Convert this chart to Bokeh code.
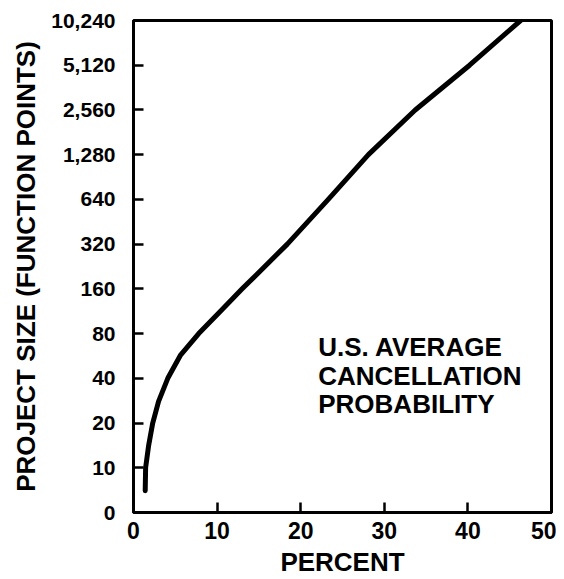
from bokeh.plotting import figure
from bokeh.models import FixedTicker, Label, Range1d
from bokeh.embed import file_html
from bokeh.resources import INLINE

# --- data ---
percent = [1.4, 1.45, 1.8, 2.3, 3.0, 4.1, 5.6, 7.8, 10.4, 13.0, 18.4, 23.3, 28.1, 33.7, 40.2, 46.3]
function_points = [7, 10, 14, 20, 28, 40, 57, 80, 113, 160, 320, 640, 1280, 2560, 5120, 10240]

y_ticks = [5, 10, 20, 40, 80, 160, 320, 640, 1280, 2560, 5120, 10240]
y_tick_labels = ["0", "10", "20", "40", "80", "160", "320", "640", "1,280", "2,560", "5,120", "10,240"]
x_ticks = [0, 10, 20, 30, 40, 50]
annotation_lines = ["U.S. AVERAGE", "CANCELLATION", "PROBABILITY"]

FONT = "Liberation Sans"

p = figure(width=556, height=579, y_axis_type="log",
           x_range=Range1d(0, 50), y_range=Range1d(5, 10240),
           output_backend="svg", toolbar_location=None,
           min_border_left=133, min_border_right=5,
           min_border_top=20, min_border_bottom=66)

p.background_fill_color = "white"
p.border_fill_color = "white"
p.grid.visible = False
p.outline_line_color = "black"
p.outline_line_width = 3

p.line(percent, function_points, line_color="black", line_width=5,
       line_cap="round", line_join="round")

for ax in (p.xaxis[0], p.yaxis[0]):
    ax.axis_line_color = "black"
    ax.axis_line_width = 3
    ax.major_tick_line_color = "black"
    ax.major_tick_line_width = 2.5
    ax.major_tick_out = 0
    ax.major_tick_in = 10
    ax.minor_tick_line_color = None
    ax.major_label_text_font = FONT
    ax.major_label_text_font_style = "bold"
    ax.major_label_text_color = "black"
    ax.axis_label_text_font = FONT
    ax.axis_label_text_font_style = "bold"
    ax.axis_label_text_font_size = "26px"
    ax.axis_label_text_color = "black"

p.xaxis.ticker = FixedTicker(ticks=x_ticks)
p.xaxis.major_label_text_font_size = "23px"
p.xaxis.major_label_standoff = 9
p.xaxis.axis_label = "PERCENT"
p.xaxis.axis_label_standoff = 5

p.yaxis.ticker = FixedTicker(ticks=y_ticks)
p.yaxis.major_label_text_font_size = "21px"
p.yaxis.major_label_overrides = {t: lab for t, lab in zip(y_ticks, y_tick_labels)}
p.yaxis.major_label_standoff = 18
p.yaxis.axis_label = "PROJECT SIZE (FUNCTION POINTS)"
p.yaxis.axis_label_standoff = 7

ann_y = [65, 41.2, 26.9]
for txt, yy in zip(annotation_lines, ann_y):
    p.add_layout(Label(x=22.1, y=yy, text=txt, text_font=FONT, text_font_style="bold",
                       text_font_size="26px", text_color="black",
                       text_baseline="middle", text_align="left"))

open("out.html", "w").write(file_html(p, INLINE))
